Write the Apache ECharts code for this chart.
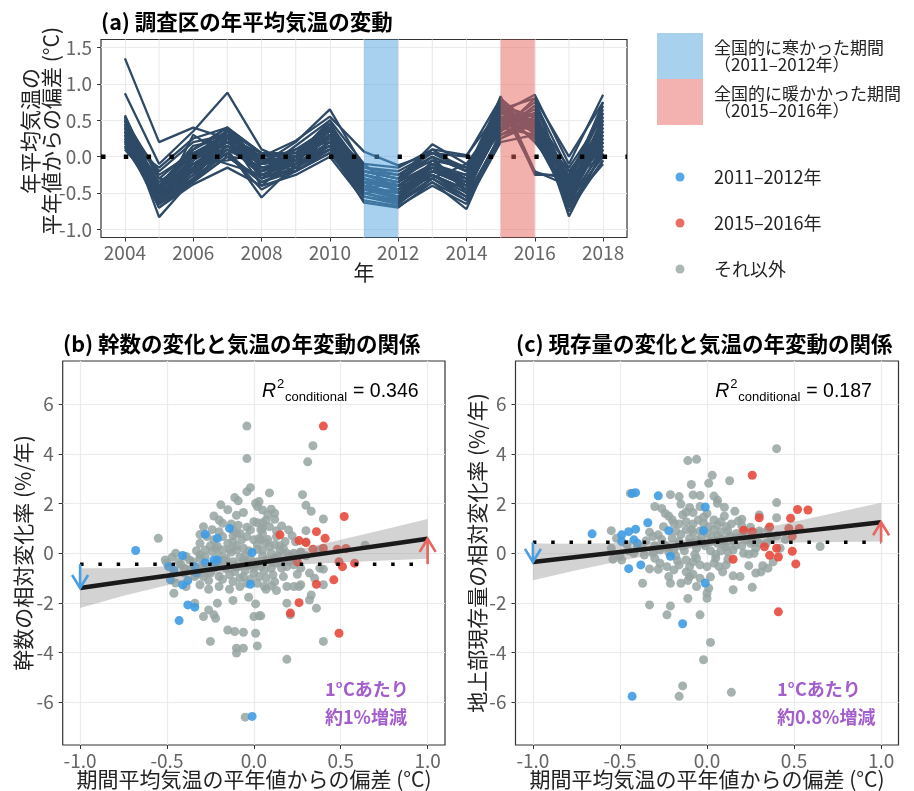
<!DOCTYPE html>
<html><head><meta charset="utf-8">
<script src="https://cdn.jsdelivr.net/npm/echarts@6/dist/echarts.min.js"></script>
<style>html,body{margin:0;padding:0;background:#fff}#c{width:914px;height:791px}</style>
</head><body><div id="c"></div>
<script>
// ---------------- DATA ----------------
const years = [2004,2005,2006,2007,2008,2009,2010,2011,2012,2013,2014,2015,2016,2017,2018];
const tempLines = [
[1.35,0.20,0.40,0.25,0.05,-0.05,0.30,-0.20,-0.30,-0.05,-0.15,0.55,0.40,-0.20,0.30],
[0.87,-0.10,0.35,0.88,0.10,-0.10,0.40,-0.25,-0.35,-0.10,-0.25,0.45,0.50,-0.30,0.45],
[0.57,-0.45,0.10,0.40,-0.10,0.20,0.65,-0.15,-0.20,0.05,-0.20,0.60,0.85,-0.10,0.85],
[0.55,-0.55,0.00,0.30,-0.05,-0.05,0.30,-0.35,-0.45,-0.15,-0.35,0.83,-0.20,-0.40,0.20],
[0.50,-0.60,-0.10,0.20,-0.20,0.00,0.25,-0.40,-0.55,-0.20,-0.40,0.75,0.30,-0.50,0.55],
[0.45,-0.83,-0.30,0.10,-0.56,-0.10,0.10,-0.63,-0.70,-0.35,-0.72,0.35,0.60,-0.82,0.10],
[0.40,-0.50,-0.20,0.35,-0.15,-0.05,0.45,-0.30,-0.40,-0.10,-0.30,0.70,0.40,-0.35,0.60],
[0.35,-0.40,0.15,0.25,0.00,0.05,0.35,-0.20,-0.30,0.17,-0.10,0.40,0.75,-0.20,0.40],
[0.30,-0.65,-0.35,0.00,-0.30,-0.15,0.15,-0.50,-0.62,-0.30,-0.55,0.30,0.55,-0.70,0.05],
[0.25,-0.55,-0.25,0.15,-0.25,-0.10,0.20,-0.45,-0.50,-0.25,-0.45,0.50,0.35,-0.60,0.25],
[0.20,-0.15,0.25,0.40,0.05,0.00,0.50,-0.10,-0.15,0.10,0.02,0.65,0.80,0.00,0.75],
[0.15,-0.60,-0.20,0.05,-0.35,-0.20,0.05,-0.55,-0.65,-0.30,-0.60,0.25,0.45,-0.75,-0.05],
[0.12,-0.45,-0.05,0.20,-0.10,-0.05,0.25,-0.35,-0.40,-0.15,-0.30,0.55,0.25,-0.45,0.35],
[0.50,-0.25,0.05,0.30,0.00,0.22,0.55,0.07,-0.12,0.05,0.00,0.80,-0.25,-0.25,0.30],
[0.45,-0.50,-0.15,0.10,-0.15,-0.05,0.30,-0.30,-0.45,-0.20,-0.35,0.45,0.65,-0.55,0.50],
[0.40,-0.60,-0.30,0.25,-0.20,-0.10,0.20,-0.40,-0.50,-0.15,-0.40,0.60,0.50,-0.45,0.15],
[0.35,-0.70,-0.38,-0.15,-0.40,-0.25,0.00,-0.60,-0.68,-0.40,-0.65,0.20,0.30,-0.65,-0.10],
[0.30,-0.35,0.00,0.35,-0.05,0.10,0.40,-0.20,-0.25,0.00,-0.20,0.70,-0.22,-0.30,0.40],
[0.55,-0.45,0.05,0.15,-0.10,-0.05,0.35,-0.35,-0.40,-0.10,-0.30,0.35,0.70,-0.35,0.65],
[0.25,-0.62,-0.25,0.30,-0.30,-0.10,0.15,-0.45,-0.58,-0.25,-0.50,0.45,0.40,-0.55,0.30],
[0.20,-0.50,-0.10,0.20,-0.05,0.00,0.30,-0.30,-0.45,-0.20,-0.25,0.65,0.20,-0.40,0.45],
[0.50,-0.55,-0.15,0.35,-0.25,-0.05,0.25,-0.40,-0.50,-0.20,-0.40,0.50,0.60,-0.50,0.20],
[0.38,-0.40,0.10,0.40,0.05,0.00,0.45,-0.25,-0.35,0.10,-0.20,0.75,0.35,-0.30,0.70],
[0.28,-0.65,-0.30,0.05,-0.45,-0.20,0.10,-0.50,-0.60,-0.30,-0.55,0.30,0.45,-0.60,0.10],
[0.42,-0.20,0.20,0.30,0.00,0.05,0.40,-0.15,-0.25,0.05,-0.15,0.60,0.55,-0.15,0.55],
[0.18,-0.55,-0.20,0.10,-0.15,-0.10,0.20,-0.40,-0.55,-0.25,-0.45,0.40,0.30,-0.60,0.00],
[0.33,-0.58,-0.18,0.25,-0.20,-0.05,0.30,-0.35,-0.45,-0.15,-0.35,0.55,0.45,-0.45,0.25],
[0.48,-0.48,0.00,0.20,-0.10,0.00,0.35,-0.30,-0.40,-0.10,-0.30,0.65,0.35,-0.40,0.40],
[0.22,-0.70,-0.32,0.00,-0.35,-0.15,0.10,-0.55,-0.62,-0.35,-0.60,0.25,0.50,-0.70,-0.05],
[0.52,-0.30,0.10,0.35,0.05,0.05,0.45,-0.20,-0.30,0.00,-0.20,0.80,0.40,-0.25,0.60],
[0.10,-0.45,0.05,-0.10,-0.25,-0.20,0.05,-0.45,-0.55,-0.10,-0.45,0.40,0.60,-0.45,0.20],
[0.30,-0.30,-0.35,0.40,-0.30,0.10,0.20,-0.25,-0.40,-0.30,-0.10,0.55,0.25,-0.60,0.50],
[0.45,-0.65,0.30,0.00,-0.05,-0.20,0.40,-0.45,-0.35,0.00,-0.50,0.70,0.55,-0.30,0.00],
[0.25,-0.40,-0.10,-0.05,0.05,-0.15,0.30,-0.10,-0.50,-0.20,-0.30,0.35,0.80,-0.50,0.35],
[0.40,-0.55,-0.05,0.30,-0.40,0.00,0.15,-0.35,-0.60,-0.05,-0.40,0.75,0.45,-0.40,0.75],
[0.15,-0.60,-0.15,0.15,-0.20,0.15,0.50,-0.50,-0.45,-0.25,-0.55,0.60,0.35,-0.65,0.15]
];
const coldPeriod = [2011, 2012];
const warmPeriod = [2015, 2016];
const aXTicks = [2004,2006,2008,2010,2012,2014,2016,2018];
const aXMinor = [2005,2007,2009,2011,2013,2015,2017];
const aYTicks = [-1.0,-0.5,0.0,0.5,1.0,1.5];
const sXTicks = [-1.0,-0.5,0.0,0.5,1.0];
const sYTicks = [-6,-4,-2,0,2,4,6];

// panel (b): stems
const bGrey = [
[-0.04,5.12],[0.34,4.33],[-0.04,3.81],[0.31,3.68],[-0.04,2.48],[-0.02,2.64],[0.09,2.43],[0.28,2.36],[-0.11,2.24],[-0.09,2.11],[0.01,2.01],[0.03,2.08],[-0.19,1.95],[0.30,1.93],[0.02,1.88],[-0.06,1.64],[0.05,1.74],[0.10,1.77],[0.33,1.69],[0.12,1.61],[-0.23,1.50],[-0.10,1.53],[0.40,1.38],[0.12,1.37],[0.00,1.27],[0.02,1.23],[0.05,1.23],[0.07,1.34],[-0.29,1.07],[-0.20,1.34],[-0.18,1.21],[-0.12,0.94],[-0.09,1.13],[-0.04,1.05],[-0.02,0.94],[0.05,1.01],[0.09,1.07],[0.13,0.91],[0.20,0.94],[0.30,0.91],[-0.13,1.18],[-0.08,0.80],[-0.20,0.87],[-0.55,0.60],[-0.27,0.67],[-0.23,0.54],[-0.18,0.67],[-0.12,0.70],[-0.07,0.54],[-0.04,0.67],[0.00,0.54],[0.04,0.54],[0.07,0.43],[0.13,0.67],[0.12,0.34],[0.18,0.47],[0.24,0.46],[0.27,0.05],[0.64,0.32],[-0.31,0.40],[-0.21,0.27],[-0.12,0.47],
[-0.45,0.00],[-0.39,-0.13],[-0.31,-0.07],[-0.28,0.13],[-0.24,0.07],[-0.18,0.13],[-0.14,0.16],[-0.10,0.13],[-0.06,0.20],[0.02,0.16],[0.05,0.13],[0.09,0.27],[0.15,0.13],[0.19,0.00],[0.23,0.00],[0.27,0.04],[0.38,0.13],
[-0.51,-0.27],[-0.47,-0.16],[-0.43,-0.34],[-0.37,-0.27],[-0.31,-0.20],[-0.27,-0.54],[-0.23,-0.60],[-0.20,-0.47],[-0.17,-0.27],[-0.12,-0.34],[-0.09,-0.54],[-0.06,-0.27],[-0.03,-0.47],[0.02,-0.34],[0.04,-0.54],[0.07,-0.27],[0.10,-0.60],[0.13,-0.40],[0.16,-0.60],[0.19,-0.54],[0.23,-0.47],[0.27,-0.60],[0.32,-0.80],[0.38,-0.60],
[-0.50,-0.40],[-0.46,-0.80],[-0.40,-0.80],[-0.34,-0.94],[-0.29,-0.94],[-0.25,-0.80],[-0.20,-0.94],[-0.14,-0.87],[-0.11,-0.74],[-0.06,-0.94],[0.00,-0.80],[0.03,-0.94],[0.07,-1.01],[0.11,-0.87],[0.17,-0.94],
[-0.46,-1.61],[-0.39,-1.34],[-0.31,-1.27],[-0.26,-1.45],[-0.20,-1.34],[-0.12,-1.14],[-0.08,-1.34],[-0.04,-1.21],[0.02,-1.21],[0.06,-1.34],[0.07,-1.45],[0.10,-1.31],[0.13,-1.50],[0.19,-1.34],[0.23,-1.34],[0.27,-1.27],[0.35,-1.01],[0.40,-0.64],[0.40,-1.27],
[-0.34,-2.01],[-0.29,-2.55],[-0.26,-2.28],[-0.21,-2.01],[-0.23,-2.48],[-0.22,-2.62],[-0.12,-1.90],[-0.03,-1.77],[0.01,-2.04],[0.00,-2.55],[0.03,-2.52],[0.04,-2.52],[0.19,-2.01],[0.21,-2.48],[0.33,-1.68],[0.32,-1.88],[0.36,-2.21],[0.26,-1.34],
[-0.25,-3.55],[-0.15,-3.09],[-0.11,-3.15],[-0.06,-3.18],[0.01,-3.22],[0.02,-3.73],[-0.10,-3.82],[-0.10,-4.02],[-0.06,-3.82],[0.19,-4.27],[0.40,-3.55],[-0.05,-6.60],
[-0.20,-0.10],[-0.15,0.40],[-0.05,-0.10],[0.02,0.35],[0.05,-0.10],[0.10,0.00],[-0.25,0.30],[-0.30,-0.50],[-0.10,-0.55],[0.00,-0.60],[0.12,-0.20],[0.20,-0.30],[-0.08,-1.00],[-0.16,-0.60],[0.05,0.80],[-0.10,0.30],[0.15,0.30],[0.30,-0.10],[-0.35,-0.35],[-0.40,-0.60],[-0.02,-0.25],
[-0.28,-0.15],[-0.22,0.20],[-0.16,-0.20],[-0.13,0.05],[-0.08,-0.15],[-0.03,0.10],[0.00,-0.45],[0.03,0.60],[0.06,-0.70],[0.08,0.55],[0.10,-0.30],[0.14,-0.10],[0.17,0.20],[0.22,-0.15],[-0.33,0.10],[-0.36,-0.65],[-0.42,-0.45],[-0.26,-1.10],[-0.18,-1.05],[-0.02,-1.05],[0.12,-1.15],[-0.14,-1.45],[0.04,0.95],[-0.24,0.95],[-0.10,0.80],[0.22,0.70],[-0.31,0.75],[0.08,1.55],[-0.15,1.75],[0.16,1.10],[0.25,-0.85],[-0.45,-1.20],[0.30,0.45],[-0.05,-0.70]
];
const bBlue = [[-0.68,0.11],[-0.28,0.76],[-0.21,0.60],[-0.14,1.00],[-0.01,0.03],[-0.41,-0.09],[-0.49,-0.54],[-0.46,-0.67],[-0.41,-1.27],[-0.38,-1.10],[-0.48,-1.07],[-0.34,-0.54],[-0.28,-0.38],[-0.22,-0.38],[-0.21,-0.27],[-0.02,-1.25],[-0.38,-2.08],[-0.34,-2.17],[-0.43,-2.71],[-0.01,-6.57],[-0.33,-0.80],[-0.23,-0.27]];
const bRed = [[0.40,5.12],[0.52,1.48],[0.15,0.74],[0.26,0.51],[0.30,0.43],[0.36,0.87],[0.41,0.60],[0.34,0.16],[0.40,0.20],[0.48,0.16],[0.53,0.19],[0.25,-0.34],[0.49,-0.34],[0.51,-0.54],[0.58,-0.40],[0.36,-1.25],[0.46,-1.07],[0.26,-1.99],[0.21,-2.41],[0.49,-3.22]];
const fitX = [-1,-0.75,-0.5,-0.25,0,0.25,0.5,0.75,1];
const bFit   = [-1.40,-1.15,-0.905,-0.657,-0.41,-0.162,0.085,0.333,0.58];
const bLower = [-2.20,-1.71,-1.29,-0.91,-0.61,-0.46,-0.37,-0.29,-0.22];
const bUpper = [-0.60,-0.60,-0.52,-0.41,-0.21,0.14,0.54,0.96,1.38];
const bBaseline = -0.44;

// panel (c): biomass
const cGrey = [
[0.40,4.21],[-0.11,3.73],[-0.06,3.78],[0.03,3.14],[0.13,2.92],[-0.09,2.77],[0.01,2.82],[-0.44,2.41],[-0.21,2.36],[-0.16,2.28],[-0.08,2.35],[-0.04,2.32],[0.06,2.14],[0.06,2.01],[0.40,2.04],[-0.30,1.88],[-0.26,1.80],[-0.15,1.98],[-0.10,1.84],[-0.08,1.64],[-0.04,1.88],[0.16,1.69],[0.20,1.37],[0.30,1.54],[0.40,1.43],
[-0.55,0.91],[-0.31,0.67],[-0.28,0.74],[-0.25,1.07],[-0.19,1.21],[-0.16,1.18],[-0.12,1.27],[-0.08,1.18],[-0.05,1.34],[-0.02,1.21],[0.01,1.07],[0.04,1.34],[0.06,1.14],[0.08,1.27],[0.11,1.07],[0.14,1.18],[0.17,0.80],[0.20,0.67],[0.23,0.54],[0.25,0.40],[0.27,0.43],[0.30,0.40],[0.34,0.40],[0.37,0.60],[0.65,0.27],
[-0.54,-0.24],[-0.49,-0.27],[-0.42,0.00],[-0.36,-0.07],[-0.31,0.00],[-0.27,0.13],[-0.23,0.27],[-0.19,0.13],[-0.16,0.47],[-0.14,0.27],[-0.10,0.40],[-0.06,0.54],[-0.03,0.67],[0.02,0.47],[0.06,0.40],[0.09,0.54],[0.11,0.27],[0.15,0.13],[0.21,0.00],[0.24,-0.04],[0.27,0.00],
[-0.27,-0.40],[-0.23,-0.54],[-0.19,-0.67],[-0.16,-0.47],[-0.12,-0.27],[-0.10,-0.54],[-0.08,-0.34],[-0.04,-0.47],[0.00,-0.54],[0.04,-0.40],[0.07,-0.54],[0.11,-0.47],[0.31,-0.75],[0.35,-0.60],
[-0.37,-1.21],[-0.33,-0.63],[-0.22,-0.94],[-0.21,-1.21],[-0.15,-1.21],[-0.10,-0.94],[-0.06,-1.34],[-0.04,-1.01],[0.00,-1.61],[0.01,-1.41],[0.15,-0.91],[0.19,-0.94],[0.15,-1.47],[0.26,-1.37],[0.28,-0.80],
[-0.33,-2.08],[-0.23,-2.48],[-0.21,-2.12],[-0.11,-1.82],[-0.04,-2.48],[0.00,-1.81],[0.02,-3.59],[-0.02,-4.29],[-0.14,-5.34],[-0.16,-5.76],[0.14,-5.60],
[-0.12,0.95],[-0.08,0.85],[-0.04,0.90],[0.00,0.80],[0.04,0.95],[0.08,0.85],[0.12,0.90],[-0.10,0.60],[-0.02,0.40],[0.06,0.70],[0.10,0.30],[-0.06,0.20],[0.02,0.10],[-0.15,0.75],[0.15,0.50],[-0.20,0.60],[-0.25,0.35],[-0.35,0.50],[-0.40,0.20],[-0.45,0.10],[0.20,0.30],[0.25,0.60],[-0.30,-0.20],[-0.18,-0.10],[0.05,-0.20],[-0.12,-0.75],[0.02,-0.95],[-0.06,-0.20],[0.12,0.05],[-0.22,1.50],[-0.14,1.55],[0.00,1.60],[0.10,1.50],[0.20,1.10],[0.25,1.05],[0.30,0.90],[0.40,0.70],[0.45,0.55],[0.42,0.20],[0.32,-0.50],[0.38,-0.35],[-0.50,-0.10],[-0.55,0.20],
[-0.30,0.30],[-0.26,0.55],[-0.22,0.05],[-0.18,0.90],[-0.13,0.10],[-0.09,0.95],[-0.07,-0.05],[-0.01,0.30],[0.03,0.65],[0.05,-0.05],[0.08,0.10],[0.13,0.70],[0.16,0.30],[0.18,1.30],[0.22,0.85],[-0.33,0.85],[-0.37,0.20],[-0.28,-0.65],[-0.17,-0.30],[-0.11,-1.10],[0.09,-0.75],[0.12,-0.25],[-0.02,1.45],[-0.20,1.35],[-0.12,1.65],[0.10,1.85],[0.04,2.30],[-0.24,1.60],[0.28,0.20],[-0.46,0.35],[-0.52,0.60],[0.35,0.95],[0.24,-0.50],[-0.08,-0.85]
];
const cBlue = [[-0.66,0.78],[-0.43,2.41],[-0.41,2.44],[-0.28,2.31],[-0.34,1.23],[-0.49,0.74],[-0.45,0.87],[-0.41,0.97],[-0.49,0.47],[-0.42,0.54],[-0.40,0.40],[-0.22,0.91],[-0.01,1.86],[-0.02,0.91],[-0.21,-0.12],[-0.45,-0.62],[-0.38,-0.47],[-0.01,-1.20],[-0.14,-2.84],[-0.43,-5.76]];
const cRed = [[0.26,3.14],[0.52,1.76],[0.58,1.74],[0.30,1.43],[0.48,1.41],[0.21,0.93],[0.26,0.87],[0.36,1.06],[0.47,1.00],[0.53,1.00],[0.49,0.69],[0.33,0.26],[0.36,-0.08],[0.40,0.20],[0.41,-0.15],[0.49,0.08],[0.51,-0.43],[0.15,-0.24],[0.41,-2.36]];
const cFit   = [-0.35,-0.15,0.05,0.25,0.45,0.65,0.85,1.05,1.25];
const cLower = [-1.09,-0.68,-0.31,0.03,0.29,0.39,0.43,0.45,0.47];
const cUpper = [0.39,0.38,0.41,0.47,0.61,0.91,1.27,1.65,2.03];
const cBaseline = 0.44;

// ---------------- STYLE ----------------
const FONT = "'Noto Sans CJK JP','Noto Sans',sans-serif";
const LINE_COL = '#2E4A66';
const BLUE = '#3F9CE3', RED = '#E8493D', GREY = '#97A4A2';
const ARROW_BLUE = '#4A9FE0', ARROW_RED = '#E8665E';
const COLD = 'rgba(80,163,222,0.5)', WARM = 'rgba(232,100,92,0.5)';
const PURPLE = '#A35DCC';

function valAxis(gi, min, max, step, ticks, fmt, isY) {
  return {
    type: 'value', gridIndex: gi, min: min, max: max, minInterval: step, maxInterval: step,
    axisLine: { show: false, onZero: false },
    axisTick: { show: true, inside: false, length: 4, lineStyle: { color: '#333', width: 1 }, customValues: ticks },
    axisLabel: { customValues: ticks, formatter: fmt, color: '#666', fontSize: 19, fontFamily: FONT, margin: isY ? 9 : 6 },
    splitLine: { show: true, lineStyle: { color: '#ebebeb', width: 1.2 } }
  };
}
const f1 = v => Number(v).toFixed(1);
const f0 = v => String(Math.round(v));

const grids = [
  { left: 101, top: 39.5, width: 526, height: 198 },
  { left: 62.7, top: 361, width: 382.3, height: 384 },
  { left: 515.5, top: 361, width: 383, height: 384 }
].map(g => Object.assign(g, { show: true, borderColor: '#333', borderWidth: 1.2, backgroundColor: '#fff', containLabel: false, outerBoundsMode: 'none' }));

const xAxes = [
  valAxis(0, 2003.3, 2018.7, 2, aXTicks, f0, false),
  valAxis(1, -1.1, 1.1, 0.5, sXTicks, f1, false),
  valAxis(2, -1.1, 1.1, 0.5, sXTicks, f1, false)
];
const yAxes = [
  valAxis(0, -1.11, 1.61, 0.5, aYTicks, f1, true),
  valAxis(1, -7.72, 7.74, 2, sYTicks, f0, true),
  valAxis(2, -7.72, 7.74, 2, sYTicks, f0, true)
];

const series = [];
series.push({
  type: 'custom', xAxisIndex: 0, yAxisIndex: 0, z: 1, silent: true,
  data: aXMinor.map(v => [v, 0]),
  renderItem: (params, api) => {
    const x = api.coord([api.value(0), 0])[0]; const cs = params.coordSys;
    return { type: 'line', shape: { x1: x, y1: cs.y, x2: x, y2: cs.y + cs.height }, style: { stroke: '#ebebeb', lineWidth: 1.2 } };
  }
});
tempLines.forEach((ln) => {
  series.push({
    type: 'line', xAxisIndex: 0, yAxisIndex: 0, z: 2, silent: true,
    data: years.map((y, j) => [y, ln[j]]), symbol: 'none', showSymbol: false,
    lineStyle: { color: LINE_COL, width: 2.3 }
  });
});
series.push({
  type: 'line', xAxisIndex: 0, yAxisIndex: 0, z: 3, silent: true, symbol: 'none',
  data: [[2003.3, 0], [2018.7, 0]],
  lineStyle: { color: '#000', width: 4.5, type: [4.5, 18.3], cap: 'butt' }
});
series.push({
  type: 'custom', xAxisIndex: 0, yAxisIndex: 0, z: 5, silent: true,
  data: [[coldPeriod[0], coldPeriod[1], 0], [warmPeriod[0], warmPeriod[1], 1]],
  renderItem: (params, api) => {
    const x0 = api.coord([api.value(0), 0])[0], x1 = api.coord([api.value(1), 0])[0]; const cs = params.coordSys;
    return { type: 'rect', shape: { x: x0, y: cs.y, width: x1 - x0, height: cs.height }, style: { fill: api.value(2) === 0 ? COLD : WARM } };
  }
});

function scatterPanel(idx, grey, blue, red, fit, lo, hi, base) {
  const common = { type: 'scatter', xAxisIndex: idx, yAxisIndex: idx, symbolSize: 9, silent: true };
  series.push(Object.assign({}, common, { z: 2, data: grey, itemStyle: { color: GREY, opacity: 0.85 } }));
  series.push(Object.assign({}, common, { z: 2, data: blue, itemStyle: { color: BLUE, opacity: 0.9 } }));
  series.push(Object.assign({}, common, { z: 2, data: red, itemStyle: { color: RED, opacity: 0.9 } }));
  series.push({
    type: 'custom', xAxisIndex: idx, yAxisIndex: idx, z: 3, silent: true, data: [[0, 0]],
    renderItem: (params, api) => {
      const pts = [];
      for (let i = 0; i < fitX.length; i++) pts.push(api.coord([fitX[i], hi[i]]));
      for (let i = fitX.length - 1; i >= 0; i--) pts.push(api.coord([fitX[i], lo[i]]));
      return { type: 'polygon', shape: { points: pts }, style: { fill: 'rgba(150,150,150,0.42)' } };
    }
  });
  series.push({
    type: 'line', xAxisIndex: idx, yAxisIndex: idx, z: 4, silent: true, symbol: 'none',
    data: fitX.map((x, i) => [x, fit[i]]), lineStyle: { color: '#1a1a1a', width: 4.5 }
  });
  series.push({
    type: 'line', xAxisIndex: idx, yAxisIndex: idx, z: 5, silent: true, symbol: 'none',
    data: [[fitX[0], base], [fitX[fitX.length - 1], base]],
    lineStyle: { color: '#000', width: 3.5, type: [3.5, 14.8], cap: 'butt' }
  });
  series.push({
    type: 'custom', xAxisIndex: idx, yAxisIndex: idx, z: 6, silent: true,
    data: [[fitX[0], base, fit[0]], [fitX[fitX.length - 1], base, fit[fit.length - 1]]],
    renderItem: (params, api) => {
      const p0 = api.coord([api.value(0), api.value(1)]);
      const p1 = api.coord([api.value(0), api.value(2)]);
      const dir = p1[1] > p0[1] ? 1 : -1;
      const col = dir > 0 ? ARROW_BLUE : ARROW_RED;
      const hl = 13, hw = 8;
      return { type: 'group', children: [
        { type: 'line', shape: { x1: p0[0], y1: p0[1], x2: p1[0], y2: p1[1] }, style: { stroke: col, lineWidth: 2.6 } },
        { type: 'polyline', shape: { points: [[p1[0] - hw, p1[1] - dir * hl], [p1[0], p1[1]], [p1[0] + hw, p1[1] - dir * hl]] }, style: { stroke: col, lineWidth: 2.6, fill: null } }
      ] };
    }
  });
}
scatterPanel(1, bGrey, bBlue, bRed, bFit, bLower, bUpper, bBaseline);
scatterPanel(2, cGrey, cBlue, cRed, cFit, cLower, cUpper, cBaseline);

// ---------------- TEXT ----------------
function txt(x, y, s, opt) {
  opt = opt || {};
  return { type: 'text', x: x, y: y, rotation: opt.rot || 0, silent: true, z: 10,
    style: { text: s, fill: opt.color || '#1a1a1a', fontSize: opt.size || 21, fontWeight: opt.weight || 'normal',
      fontStyle: opt.style || 'normal', fontFamily: opt.family || FONT, align: opt.align || 'left', verticalAlign: 'middle' } };
}
const R90 = Math.PI / 2;
const SANS = "'Liberation Sans',Arial,sans-serif";
const graphics = [
  txt(101, 22, '(a) 調査区の年平均気温の変動', { size: 21.5, weight: 'bold', color: '#000' }),
  txt(63, 344, '(b) 幹数の変化と気温の年変動の関係', { size: 21.5, weight: 'bold', color: '#000' }),
  txt(516, 344, '(c) 現存量の変化と気温の年変動の関係', { size: 21.5, weight: 'bold', color: '#000' }),
  txt(30, 131, '年平均気温の', { rot: R90, align: 'center', color: '#222' }),
  txt(51, 131, '平年値からの偏差 (°C)', { rot: R90, align: 'center', color: '#222' }),
  txt(364, 272, '年', { align: 'center', color: '#222' }),
  txt(23, 553, '幹数の相対変化率 (%/年)', { rot: R90, align: 'center', color: '#222' }),
  txt(477, 553, '地上部現存量の相対変化率 (%/年)', { rot: R90, align: 'center', color: '#222' }),
  txt(254, 779, '期間平均気温の平年値からの偏差 (°C)', { align: 'center', color: '#222' }),
  txt(707, 779, '期間平均気温の平年値からの偏差 (°C)', { align: 'center', color: '#222' }),
  // legend
  { type: 'rect', shape: { x: 657, y: 33, width: 46, height: 46 }, style: { fill: '#A8D1ED' }, silent: true },
  { type: 'rect', shape: { x: 657, y: 79, width: 46, height: 46 }, style: { fill: '#F3B2AF' }, silent: true },
  txt(714, 48, '全国的に寒かった期間', { size: 17, color: '#222' }),
  txt(714, 65, '（2011–2012年）', { size: 17, color: '#222' }),
  txt(714, 94, '全国的に暖かかった期間', { size: 17, color: '#222' }),
  txt(714, 111, '（2015–2016年）', { size: 17, color: '#222' }),
  { type: 'circle', shape: { cx: 680, cy: 177, r: 4.5 }, style: { fill: '#55A8E8' }, silent: true },
  { type: 'circle', shape: { cx: 680, cy: 223, r: 4.5 }, style: { fill: '#EB6E66' }, silent: true },
  { type: 'circle', shape: { cx: 680, cy: 269, r: 4.5 }, style: { fill: '#ABB8B5' }, silent: true },
  txt(714, 177, '2011–2012年', { size: 18, color: '#222' }),
  txt(714, 223, '2015–2016年', { size: 18, color: '#222' }),
  txt(714, 269, 'それ以外', { size: 18, color: '#222' })
];
[[0, '0.346', '1°Cあたり', '約1%増減', 325], [453.3, '0.187', '1°Cあたり', '約0.8%増減', 777]].forEach(r => {
  const dx = r[0];
  graphics.push(txt(262 + dx, 392, 'R', { family: SANS, style: 'italic', size: 19.5, color: '#000' }));
  graphics.push(txt(277 + dx, 384, '2', { family: SANS, size: 13, color: '#000' }));
  graphics.push(txt(285 + dx, 397, 'conditional', { family: SANS, size: 13, color: '#000' }));
  graphics.push(txt(353 + dx, 392, '= ' + r[1], { family: SANS, size: 19.5, color: '#000' }));
  graphics.push(txt(r[4], 689, r[2], { size: 18, weight: 'bold', color: PURPLE }));
  graphics.push(txt(r[4], 717, r[3], { size: 18, weight: 'bold', color: PURPLE }));
});

const chart = echarts.init(document.getElementById('c'), null, { renderer: 'canvas' });
chart.setOption({
  animation: false,
  backgroundColor: '#fff',
  textStyle: { fontFamily: FONT },
  grid: grids, xAxis: xAxes, yAxis: yAxes, series: series, graphic: graphics
});
</script></body></html>
